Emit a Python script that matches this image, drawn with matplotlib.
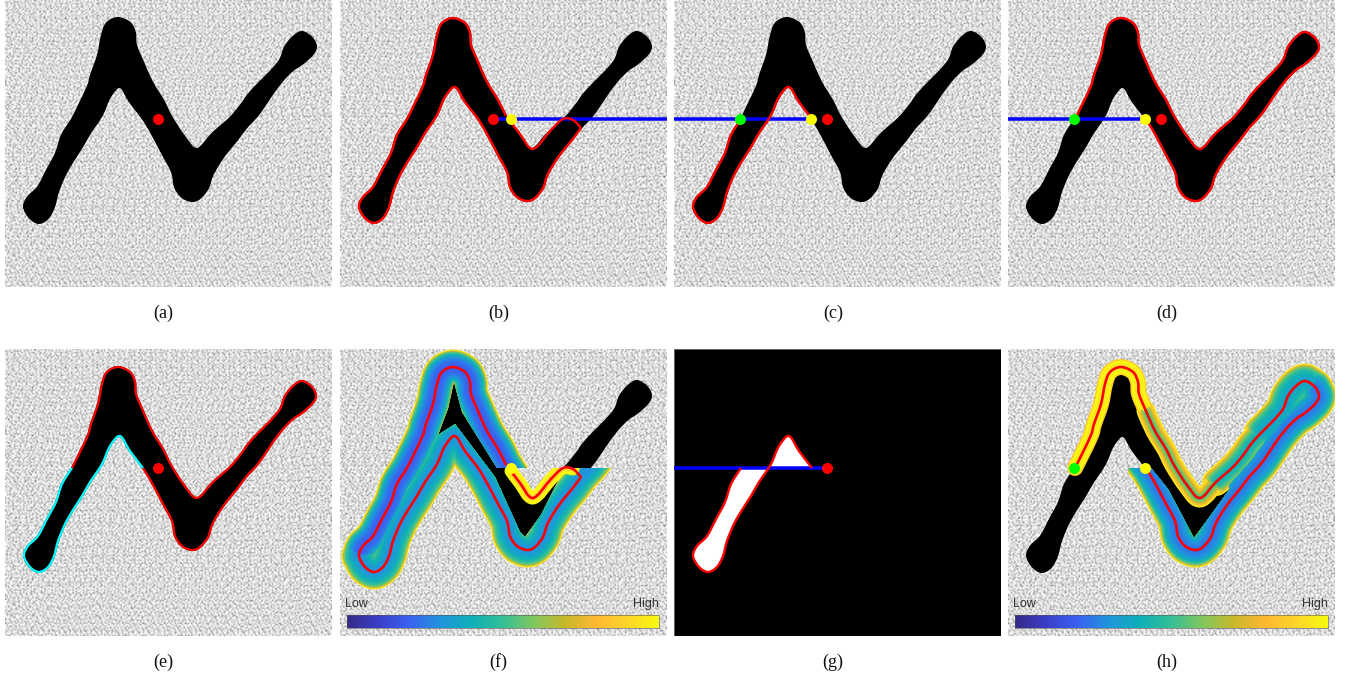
import numpy as np
import matplotlib
matplotlib.use('Agg')
import matplotlib.pyplot as plt
from matplotlib.colors import LinearSegmentedColormap
from matplotlib.patches import PathPatch
from matplotlib.path import Path

W, H = 1346, 675
PW, PH = 327, 287

# shape outline, panel pixels, clockwise from the top of the peak
OUTLINE = [(113, 18), (125, 23), (130, 33), (131, 45), (138, 62), (147, 82), (158, 100), (166, 116),
           (179, 136), (192, 149), (208, 133), (225, 118), (236, 105), (243, 95), (253, 84), (265, 72),
           (275, 60), (280, 47), (288, 37), (297, 32), (307, 38), (311, 47), (307, 55), (297, 64),
           (288, 70), (278, 80), (268, 93), (260, 105), (252, 116), (241, 128), (232, 140), (222, 152),
           (213, 165), (207, 176), (203, 188), (195, 198), (187, 201), (177, 197), (170, 187), (167, 172),
           (157, 153), (147, 134), (138, 119), (125, 102), (115, 87), (105, 97), (98, 113), (92, 123),
           (85, 133), (77, 147), (68, 161), (60, 175), (53, 192), (49, 207), (43, 218), (34, 223),
           (25, 218), (19, 207), (23, 197), (33, 187), (42, 170), (51, 153), (57, 135), (67, 119),
           (74, 105), (83, 86), (86, 75), (93, 55), (97, 35), (102, 23)]
TIP = [(241, 128), (233, 120), (223, 119), (211, 130), (193, 149), (180, 134), (171, 122)]

PANELS = ['a', 'b', 'c', 'd', 'e', 'f', 'g', 'h']
PANEL_X = [5, 340, 674, 1008, 5, 340, 674, 1008]
PANEL_Y = [0, 0, 0, 0, 349, 349, 349, 349]
CAPTION_X = [158, 159, 159, 159, 158, 158, 159, 159]

SCAN_Y = 119
SEED_X = 153
LEFT_X = 66
RIGHT_X_C = 137
RIGHT_X_B = 171

CMAP_STOPS = ['#352a87', '#3b3fc8', '#3a62f2', '#1f96dc', '#0fb0b8', '#35bf96', '#82c85e', '#c8b82a',
              '#ffb833', '#fdd52a', '#f8fa10']

# stroke half widths (px) and the colour value at each, outermost first
BAND_D = [17.5, 16.5, 15.5, 14, 12.5, 11, 9.5, 8, 6.5, 5, 3.5, 2]
F_UPPER = [0.98, 0.72, 0.55, 0.46, 0.38, 0.32, 0.28, 0.25, 0.23, 0.21, 0.20, 0.20]
F_LOWER = [0.98, 0.75, 0.60, 0.52, 0.47, 0.43, 0.40, 0.37, 0.34, 0.32, 0.30, 0.30]
H_BLUE = [0.98, 0.75, 0.60, 0.50, 0.42, 0.37, 0.33, 0.30, 0.28, 0.26, 0.25, 0.24]
H_TEAL = [0.98, 0.78, 0.65, 0.56, 0.50, 0.46, 0.43, 0.41, 0.39, 0.37, 0.36, 0.35]

MID_D = [14, 12.5, 11, 9.5, 8, 6.5, 5, 3.5, 2]
H_MID = [0.95, 0.78, 0.66, 0.58, 0.52, 0.48, 0.45, 0.42, 0.40]

NOTCH_D = [9.5, 8, 6.5, 5, 3.5, 2]
H_NOTCH = [0.95, 0.85, 0.75, 0.66, 0.58, 0.52]

NARROW_D = [8, 6.5, 5, 3.5, 2]
H_TOP = [0.86, 1.0, 0.98, 0.96, 0.95]
TIP_D = [6.5, 5, 3.5, 2]
F_TIP = [0.98, 1.0, 0.93, 0.88]

SPECK_A = [[242, 205, 230, 178, 250, 214, 188],
           [196, 252, 170, 236, 208, 246, 226],
           [228, 184, 244, 216, 160, 232, 200],
           [250, 218, 192, 255, 224, 176, 244],
           [174, 238, 226, 202, 248, 212, 234]]
SPECK_B = [[255, 232, 246, 205, 255, 240, 222, 250, 196, 238, 255],
           [218, 255, 236, 252, 190, 255, 244, 228, 255, 212, 248],
           [244, 200, 255, 228, 246, 216, 255, 182, 240, 255, 226],
           [255, 238, 214, 255, 234, 250, 204, 255, 230, 194, 255],
           [208, 250, 242, 186, 255, 226, 246, 236, 255, 248, 220],
           [246, 224, 255, 240, 210, 255, 192, 252, 216, 242, 255],
           [232, 255, 198, 250, 244, 234, 255, 220, 248, 206, 238],
           [255, 214, 246, 226, 255, 202, 240, 255, 234, 255, 188]]
ROW_SHIFT = [0, 3, 5, 1, 6, 2, 4, 3, 0, 5, 2, 6, 1, 4, 2, 5, 0, 3, 6]
COL_SHIFT = [2, 7, 0, 4, 6, 1, 5, 3, 7, 2, 6, 0, 3, 5, 1, 4, 2]


cmap = LinearSegmentedColormap.from_list('bar', CMAP_STOPS)


def seg(a, b):
    # outline points from index a to index b going clockwise
    n = len(OUTLINE)
    out = [OUTLINE[a % n]]
    i = a % n
    while i != b % n:
        i = (i + 1) % n
        out.append(OUTLINE[i])
    return out


def smooth(pts, closed=False):
    # bezier curve through the points
    pts = [np.array(p, dtype=float) for p in pts]
    n = len(pts)
    verts = [pts[0]]
    codes = [Path.MOVETO]
    for i in range(n if closed else n - 1):
        if closed:
            p0, p1, p2, p3 = pts[i - 1], pts[i], pts[(i + 1) % n], pts[(i + 2) % n]
        else:
            p0, p1, p2, p3 = pts[max(i - 1, 0)], pts[i], pts[i + 1], pts[min(i + 2, n - 1)]
        verts += [p1 + (p2 - p0) / 6, p2 - (p3 - p1) / 6, p2]
        codes += [Path.CURVE4, Path.CURVE4, Path.CURVE4]
    return Path(verts, codes)


def px(v):
    return v * 72 / 100


def new_panel(i):
    ax = fig.add_axes([PANEL_X[i] / W, 1 - (PANEL_Y[i] + PH) / H, PW / W, PH / H])
    ax.set_xlim(0, PW)
    ax.set_ylim(PH, 0)
    ax.axis('off')
    ax.text(CAPTION_X[i], 313.5, '(%s)' % PANELS[i], ha='center', va='center', fontsize=13,
            family='Liberation Serif', clip_on=False, color='#111111')
    return ax


def background(ax):
    # cells a bit coarser than one pixel, the reference speckle is soft
    rows = PH * 2 // 3
    cols = PW * 2 // 3
    a = np.tile(SPECK_A, (rows // 5 + 1, cols // 7 + 1))[:rows, :cols]
    b = np.tile(SPECK_B, (rows // 8 + 1, cols // 11 + 1))[:rows, :cols]
    for r in range(rows):
        a[r] = np.roll(a[r], ROW_SHIFT[r % len(ROW_SHIFT)] * (r % 4 + 1))
    for c in range(cols):
        b[:, c] = np.roll(b[:, c], COL_SHIFT[c % len(COL_SHIFT)] * (c % 3 + 1))
    ax.imshow(a * b / 255.0, cmap='gray', vmin=30, vmax=225, extent=(0, PW, PH, 0), aspect='auto',
              interpolation='bilinear', zorder=0)
    ax.set_xlim(0, PW)
    ax.set_ylim(PH, 0)


def shape(ax):
    ax.add_patch(PathPatch(smooth(OUTLINE, True), fc='black', ec='black', lw=px(2), zorder=1))


def contour(ax, pts, color='#ff0000', lw=2.4):
    ax.add_patch(PathPatch(smooth(pts), fill=False, ec=color, lw=px(lw), capstyle='butt',
                           joinstyle='round', zorder=6))


def scanline(ax, x0, x1):
    ax.plot([x0, x1], [SCAN_Y, SCAN_Y], color='#0000ff', lw=px(3.5), solid_capstyle='butt', zorder=5)


def dot(ax, x, color):
    ax.plot([x], [SCAN_Y], 'o', color=color, ms=px(11), mew=0, zorder=8)


def bands(ax, sections):
    # sections: (points, half widths, values, clip polygon), drawn widest first over all of them
    layers = sorted({d for s in sections for d in s[1]}, reverse=True)
    for d in layers:
        for pts, ds, vals, clip in sections:
            if d not in ds:
                continue
            p = PathPatch(smooth(pts), fill=False, ec=cmap(vals[ds.index(d)]), lw=px(2 * d), capstyle='round',
                          joinstyle='round', zorder=3)
            ax.add_patch(p)
            if clip is not None:
                p.set_clip_path(Path(clip + [clip[0]]), ax.transData)


def colorbar(ax, x0, x1):
    bar = np.linspace(0, 1, 256).reshape(1, -1)
    ax.imshow(bar, cmap=cmap, extent=(x0, x1, 279, 266), aspect='auto', zorder=7)
    ax.plot([x0, x1, x1, x0, x0], [266, 266, 279, 279, 266], color='#555555', lw=0.4, zorder=8)
    ax.set_xlim(0, PW)
    ax.set_ylim(PH, 0)
    ax.text(x0 - 2, 255, 'Low', ha='left', va='center', fontsize=9, family='Liberation Sans', color='#333333', zorder=9)
    ax.text(x1, 255, 'High', ha='right', va='center', fontsize=9, family='Liberation Sans', color='#333333', zorder=9)


fig = plt.figure(figsize=(W / 100, H / 100), dpi=100)

outer_b = seg(29, 7)
left_piece = seg(42, 63)
right_piece = seg(63, 42)

# (a)
ax = new_panel(0)
background(ax)
shape(ax)
dot(ax, SEED_X, '#ff0000')

# (b)
ax = new_panel(1)
background(ax)
shape(ax)
scanline(ax, SEED_X, PW)
contour(ax, TIP)
contour(ax, outer_b)
dot(ax, SEED_X, '#ff0000')
dot(ax, RIGHT_X_B, '#ffff00')

# (c)
ax = new_panel(2)
background(ax)
shape(ax)
scanline(ax, 0, RIGHT_X_C)
contour(ax, left_piece)
dot(ax, SEED_X, '#ff0000')
dot(ax, RIGHT_X_C, '#ffff00')
dot(ax, LEFT_X, '#00ff00')

# (d)
ax = new_panel(3)
background(ax)
shape(ax)
scanline(ax, 0, RIGHT_X_C)
contour(ax, right_piece)
dot(ax, SEED_X, '#ff0000')
dot(ax, RIGHT_X_C, '#ffff00')
dot(ax, LEFT_X, '#00ff00')

# (e)
ax = new_panel(4)
background(ax)
shape(ax)
contour(ax, right_piece, lw=2.2)
contour(ax, left_piece, color='#00ffff', lw=2.2)
dot(ax, SEED_X, '#ff0000')

# (f)
ax = new_panel(5)
background(ax)
shape(ax)
upper_clip = [(0, 0), (PW, 0), (PW, SCAN_Y), (157, SCAN_Y), (122, 63), (114, 33), (108, 60), (98, 86),
              (60, 200), (60, PH), (0, PH)]
lower_clip = [(0, 0), (98, 86), (115, 75), (155, 128), (180, 183), (185, 188), (201, 166), (218, 132),
              (224, SCAN_Y), (PW, SCAN_Y), (PW, PH), (0, PH)]
tip_clip = [(150, SCAN_Y), (PW, SCAN_Y), (PW, PH), (150, PH)]
bands(ax, [(seg(57, 8), BAND_D, F_UPPER, upper_clip),
           (seg(27, 57), BAND_D, F_LOWER, lower_clip),
           (TIP[1:], TIP_D, F_TIP, tip_clip)])
contour(ax, TIP, lw=2.6)
contour(ax, outer_b, lw=2.6)
dot(ax, RIGHT_X_B, '#ffff00')
colorbar(ax, 7, 319)

# (g)
ax = new_panel(6)
ax.add_patch(plt.Rectangle((0, 0), PW, PH, fc='black', ec='#555555', lw=0.5, zorder=0))
ax.add_patch(PathPatch(smooth(left_piece), fc='white', ec='none', zorder=1))
scanline(ax, 0, SEED_X)
contour(ax, left_piece)
dot(ax, SEED_X, '#ff0000')

# (h)
ax = new_panel(7)
background(ax)
shape(ax)
start_clip = [(0, 0), (PW, 0), (PW, PH), (60, PH), (60, SCAN_Y), (0, SCAN_Y)]
end_clip = [(120, SCAN_Y), (143, SCAN_Y), (160, 140), (176, 170), (186, 189), (200, 170), (221, 141),
            (221, 0), (PW, 0), (PW, PH), (120, PH)]
bands(ax, [(seg(63, 4), NARROW_D, H_TOP, start_clip),
           (seg(4, 10), NOTCH_D, H_NOTCH, None),
           (seg(10, 14), MID_D, H_MID, None),
           (seg(14, 20), BAND_D, H_TEAL, None),
           (seg(20, 43), BAND_D, H_BLUE, end_clip)])
contour(ax, right_piece, lw=2.6)
dot(ax, RIGHT_X_C, '#ffff00')
dot(ax, LEFT_X, '#00ff00')
colorbar(ax, 7, 320)

fig.savefig('out.png', dpi=100)
